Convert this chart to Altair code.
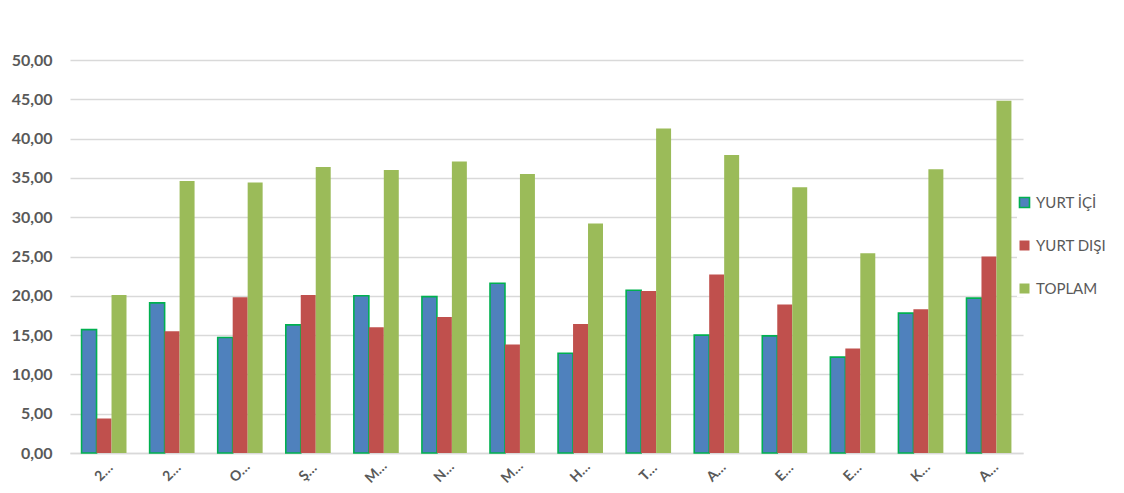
import altair as alt
import pandas as pd

categories = ["2018", "2019", "Ocak", "Şubat", "Mart", "Nisan", "Mayıs",
              "Haziran", "Temmuz", "Ağustos", "Eylül", "Ekim", "Kasım", "Aralık"]
series = ["YURT İÇİ", "YURT DIŞI", "TOPLAM"]
yurt_ici = [15.7, 19.1, 14.7, 16.3, 20.0, 19.9, 21.6, 12.7, 20.7, 15.0, 14.9, 12.2, 17.8, 19.7]
yurt_disi = [4.4, 15.5, 19.8, 20.1, 16.0, 17.3, 13.8, 16.4, 20.6, 22.7, 18.9, 13.3, 18.3, 25.0]
toplam = [20.1, 34.6, 34.4, 36.4, 36.0, 37.1, 35.5, 29.2, 41.3, 37.9, 33.8, 25.4, 36.1, 44.8]
y_ticks = [0, 5, 10, 15, 20, 25, 30, 35, 40, 45, 50]

fill_colors = ["#4F81BD", "#C0504D", "#9BBB59"]
stroke_colors = ["#00B050", "transparent", "transparent"]

rows = []
for s, vals in zip(series, [yurt_ici, yurt_disi, toplam]):
    for c, v in zip(categories, vals):
        rows.append({"kategori": c, "seri": s, "deger": v})
df = pd.DataFrame(rows)

FONT = "Lato"
GRAY = "#595959"

legend_cfg = dict(title=None, orient="none", legendX=947, legendY=135,
                  symbolType="square", symbolSize=100, symbolStrokeWidth=1.6,
                  labelFont=FONT, labelFontSize=15, labelColor=GRAY,
                  labelOffset=4, rowPadding=26, padding=0, fillColor="white")

chart = alt.Chart(df).mark_bar(strokeWidth=1.6).encode(
    x=alt.X("kategori:N", sort=categories,
            scale=alt.Scale(paddingInner=0.34, paddingOuter=0.17),
            axis=alt.Axis(title=None, labelAngle=-45, labelAlign="center",
                          labelBaseline="middle", labelPadding=19, ticks=False,
                          labelExpr="substring(datum.label, 0, 1) + '…'",
                          labelFont=FONT, labelFontSize=14, labelFontWeight="bold",
                          labelColor=GRAY, domainColor="#D9D9D9", domainWidth=1.5,
                          grid=False)),
    xOffset=alt.XOffset("seri:N", sort=series, scale=alt.Scale(paddingInner=0, paddingOuter=0)),
    y=alt.Y("deger:Q", scale=alt.Scale(domain=[0, 50], nice=False),
            axis=alt.Axis(title=None, values=y_ticks, ticks=False, domain=False,
                          labelExpr="replace(format(datum.value, '.2f'), '.', ',')",
                          labelFont=FONT, labelFontSize=16, labelFontWeight="bold",
                          labelColor=GRAY, labelPadding=18,
                          gridColor="#D9D9D9", gridWidth=1.5)),
    fill=alt.Fill("seri:N", sort=series,
                  scale=alt.Scale(domain=series, range=fill_colors),
                  legend=alt.Legend(**legend_cfg)),
    stroke=alt.Stroke("seri:N", sort=series,
                      scale=alt.Scale(domain=series, range=stroke_colors),
                      legend=alt.Legend(**legend_cfg)),
).properties(
    width=953, height=393,
    autosize=alt.AutoSizeParams(type="none"),
    padding={"left": 62, "top": 52, "right": 93, "bottom": 32},
).configure(background="white").configure_view(stroke=None, strokeWidth=0)

chart.save("out.html", embed_options={"renderer": "svg", "actions": False})
